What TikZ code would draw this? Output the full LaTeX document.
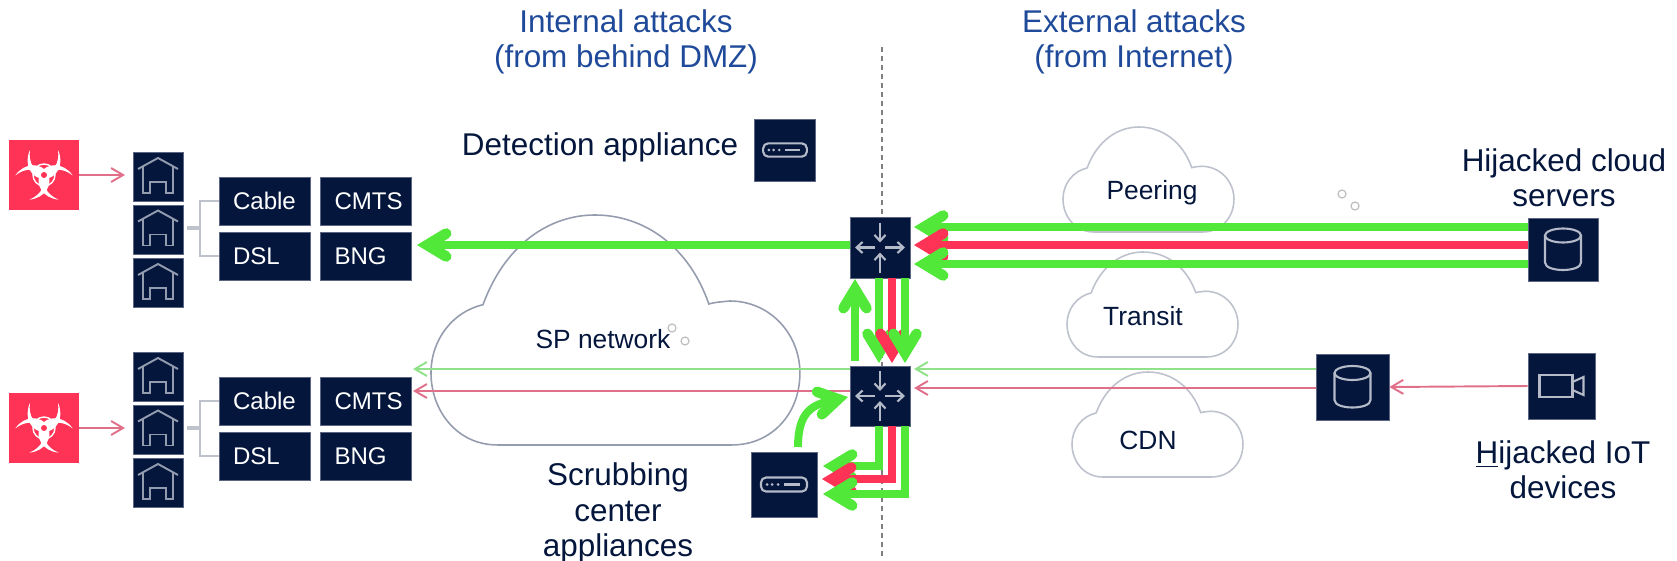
\documentclass[tikz,border=0pt]{standalone}
\usepackage{fontspec}
\setmainfont{Liberation Sans}
\usetikzlibrary{arrows.meta}
\definecolor{navy}{HTML}{04163C}
\definecolor{boxedge}{HTML}{5C6682}
\definecolor{titleblue}{HTML}{1F4A9A}
\definecolor{hotred}{HTML}{FF3355}
\definecolor{hotgreen}{HTML}{52E83A}
\definecolor{palered}{HTML}{E0708A}
\definecolor{palegreen}{HTML}{8FE288}
\definecolor{iconline}{HTML}{B4BAC8}
\definecolor{houseline}{HTML}{939BAE}
\definecolor{bracketgray}{HTML}{BEC3CB}
\newcommand{\bigfont}{\fontsize{17.9}{20}\selectfont}
\newcommand{\midfont}{\fontsize{15}{18}\selectfont}
\newcommand{\cellfont}{\fontsize{13.7}{16}\selectfont}
\tikzstyle{iconbox} = [rectangle, fill=navy, draw=boxedge, line width=.4pt, inner sep=0pt]
\tikzstyle{cell} = [iconbox, text=white, font=\cellfont, minimum height=.96cm, inner xsep=.28cm, text width=1.26cm, text height=.34cm, text depth=0cm, align=left]
\tikzstyle{biobox} = [rectangle, fill=hotred, inner sep=0pt, minimum size=1.4cm]
\tikzstyle{label} = [text=navy, font=\bigfont, align=center, inner sep=0pt]
\tikzstyle{small} = [text=navy, font=\midfont, inner sep=0pt]
\tikzstyle{title} = [text=titleblue, font=\bigfont, align=center, inner sep=0pt]
\tikzstyle{ring} = [circle, draw=black!25, line width=.7pt, minimum size=.16cm, inner sep=0pt]
\tikzstyle{thickg} = [draw=hotgreen, line width=4.5pt, -{Straight Barb[length=.38cm,width=.46cm,line width=6pt,line cap=round]}]
\tikzstyle{thickr} = [draw=hotred, line width=4.5pt, -{Straight Barb[length=.38cm,width=.46cm,line width=6pt,line cap=round]}]
\tikzstyle{thing} = [draw=palegreen, line width=1.1pt, -{Straight Barb[length=.24cm,width=.28cm]}]
\tikzstyle{thinr} = [draw=palered, line width=1.1pt, -{Straight Barb[length=.24cm,width=.28cm]}]
\tikzstyle{glyph} = [draw=iconline, line width=1.2pt]
\tikzset{
  netcloud/.pic={\draw[pic actions] (0.141,0.39) .. controls (0.2,0.13) and (0.32,0) .. (0.444,0) .. controls (0.58,0) and (0.70,0.14) .. (0.753,0.387) .. controls (0.77,0.38) .. (0.81,0.374) .. controls (0.92,0.374) and (1,0.52) .. (1,0.687) .. controls (1,0.87) and (0.92,1) .. (0.816,1) -- (0.18,1) .. controls (0.07,1) and (0,0.85) .. (0,0.687) .. controls (0,0.54) and (0.06,0.42) .. (0.141,0.39) -- cycle;},
  house/.pic={\draw[draw=houseline, line width=1.1pt] (-20,-8) -- (0,-19) -- (20,-8);
    \draw[draw=houseline, line width=1.1pt] (-15,-11) -- (-15,16) -- (-8,16) -- (-8,5) -- (8,5) -- (8,16) -- (15,16) -- (15,-11);},
  router/.pic={\draw[glyph, -{Straight Barb[length=.12cm,width=.22cm]}] (0,-25) -- (0,-5);
    \draw[glyph, -{Straight Barb[length=.12cm,width=.22cm]}] (0,25) -- (0,5);
    \draw[glyph, -{Straight Barb[length=.12cm,width=.22cm]}] (-5,0) -- (-25,0);
    \draw[glyph, -{Straight Barb[length=.12cm,width=.22cm]}] (5,0) -- (25,0);},
  appliance/.pic={\draw[glyph, rounded corners=.1cm] (-23,-7) rectangle (23,7);
    \foreach \k in {-17,-12,-6} {\fill[iconline] (\k,0) circle (1.5);}
    \draw[glyph] (0,0) -- (16,0);},
  dbase/.pic={\draw[glyph] (0,-14) ellipse (18 and 7);
    \draw[glyph] (-18,-14) -- (-18,13) .. controls (-18,23) and (18,23) .. (18,13) -- (18,-14);},
  camera/.pic={\draw[glyph] (-22,-11) rectangle (11,11);
    \draw[glyph] (11,-4) -- (22,-9) -- (22,9) -- (11,4);},
  biohazard/.pic={\foreach \k in {0,120,240} {\fill[white, rotate=\k] (-14,-25) .. controls (-21,-10) and (-12,4) .. (0,4) .. controls (12,4) and (21,-10) .. (14,-25) .. controls (16,-12) and (9,-2) .. (0,-2) .. controls (-9,-2) and (-16,-12) .. (-14,-25) -- cycle;}
    \draw[white, line width=.8pt] (0,0) circle (11);
    \fill[hotred] (0,0) circle (3);}
}
\begin{document}
\begin{tikzpicture}[x=.02cm, y=-.02cm]
  \useasboundingbox (0,0) rectangle (1677,561);

  % clouds and the divider
  \foreach \cx/\cy/\cw/\ch/\cshade in {431/215/7.38/4.6/65,1063/127/3.42/2.1/40,1067/252/3.42/2.1/40,1072/372/3.42/2.1/40}
  {\begin{scope}[shift={(\cx,\cy)}, x=\cw cm, y=-\ch cm]
    \pic[draw=boxedge!\cshade, line width=.9pt] {netcloud};
  \end{scope}}
  \coordinate (divT) at (882,47);
  \coordinate (divB) at (882,558);
  \draw[black!50, line width=1.4pt, dash pattern=on .1cm off .08cm] (divT) -- (divB);

  % texts
  \node[title] (internal) at (626,42) {Internal attacks\\(from behind DMZ)};
  \node[title] (external) at (1134,42) {External attacks\\(from Internet)};
  \node[label] (detect) at (600,147) {Detection appliance};
  \node[label] (scrub) at (618,513) {Scrubbing\\center\\appliances};
  \node[label] (cloudsrv) at (1564,178) {Hijacked cloud\\servers};
  \node[label] (iotdev) at (1563,470) {\underline{H}ijacked IoT\\devices};
  \node[small] (sp) at (603,339) {SP network};
  \node[small] (peer) at (1152,193) {Peering};
  \node[small] (transit) at (1143,316) {Transit};
  \node[small] (cdn) at (1148,440) {CDN};
  \node[ring] (o1) at (672,328) {};
  \node[ring] (o2) at (685,341) {};
  \node[ring] (o3) at (1342,194) {};
  \node[ring] (o4) at (1355,206) {};

  % subscriber stacks
  \foreach \s/\d in {a/0,b/200}
  {
    \foreach \i/\hy in {1/177,2/229.5,3/283}
    {\node[iconbox, minimum width=1cm, minimum height=.98cm] (h\s\i) at (158,\hy+\d) {};
    \pic at (h\s\i) {house};}
    \node[cell] (cable\s) at (264.5,201+\d) {Cable};
    \node[cell] (dsl\s) at (264.5,256+\d) {DSL};
    \node[cell] (cmts\s) at (366,201+\d) {CMTS};
    \node[cell] (bng\s) at (366,256+\d) {BNG};
    \coordinate (join\s) at (200,228+\d);
    \draw[bracketgray, line width=1.1pt] (cable\s.west) -| (join\s) |- (dsl\s.west);
    \draw[bracketgray, line width=1.8pt, shorten <=.08cm] (h\s2.east |- join\s) -- (join\s);
  }

  % sources
  \node[biobox] (bioa) at (44,175) {};
  \pic at (bioa) {biohazard};
  \node[biobox] (biob) at (44,428) {};
  \pic at (biob) {biohazard};
  \coordinate (tipa) at (125,175);
  \coordinate (tipb) at (125,428);
  \draw[thinr] (bioa) -- (tipa);
  \draw[thinr] (biob) -- (tipb);

  % routers and servers
  \node[iconbox, minimum width=1.2cm, minimum height=1.22cm] (r1) at (880,247.5) {};
  \pic at (r1) {router};
  \node[iconbox, minimum width=1.2cm, minimum height=1.2cm] (r2) at (880,396) {};
  \pic at (r2) {router};
  \node[iconbox, minimum width=1.22cm, minimum height=1.24cm] (detbox) at (785,150) {};
  \pic[scale=.95] at (detbox) {appliance};
  \node[iconbox, minimum width=1.32cm, minimum height=1.3cm] (scrbox) at (784,484.5) {};
  \pic at (scrbox) {appliance};
  \node[iconbox, minimum width=1.4cm, minimum height=1.26cm] (db1) at (1563,249.5) {};
  \pic at (db1) {dbase};
  \node[iconbox, minimum width=1.46cm, minimum height=1.32cm] (db2) at (1352.5,387) {};
  \pic at (db2) {dbase};
  \node[iconbox, minimum width=1.34cm, minimum height=1.32cm] (cam) at (1561.5,386) {};
  \pic at (cam) {camera};

  % arrow ends
  \coordinate (inA) at (914,227);
  \coordinate (inB) at (914,245);
  \coordinate (inC) at (914,264);
  \coordinate (toBng) at (417,245);
  \coordinate (dnA) at (879,363);
  \coordinate (dnB) at (892,363);
  \coordinate (dnC) at (905,363);
  \coordinate (upS) at (855,361);
  \coordinate (upT) at (855,279);
  \coordinate (scA) at (823,466);
  \coordinate (scB) at (822,479);
  \coordinate (scC) at (823,494);
  \coordinate (curveS) at (798,447);
  \coordinate (curveT) at (848,397);
  \coordinate (thinGr) at (914,369);
  \coordinate (thinRr) at (914,388);
  \coordinate (thinGl) at (413,369);
  \coordinate (thinRl) at (413,391);

  % thin paths
  \draw[thing] (db2.west |- thinGr) -- (thinGr);
  \draw[thinr] (db2.west |- thinRr) -- (thinRr);
  \draw[thing] (r2.west |- thinGl) -- (thinGl);
  \draw[thinr] (r2.west |- thinRl) -- (thinRl);
  \draw[thinr] (cam.west) -- (db2.east);

  % thick paths
  \draw[thickg] (db1.west |- inA) -- (inA);
  \draw[thickr] (db1.west |- inB) -- (inB);
  \draw[thickg] (db1.west |- inC) -- (inC);
  \draw[thickg] (r1.west |- toBng) -- (toBng);
  \draw[thickg] (dnA |- r1.south) -- (dnA);
  \draw[thickr] (dnB |- r1.south) -- (dnB);
  \draw[thickg] (dnC |- r1.south) -- (dnC);
  \draw[thickg] (upS) -- (upT);
  \draw[thickg] (dnA |- r2.south) |- (scA);
  \draw[thickr] (dnB |- r2.south) |- (scB);
  \draw[thickg] (dnC |- r2.south) |- (scC);
  \draw[thickg] (curveS) to[out=90,in=192,looseness=1.3] (curveT);
\end{tikzpicture}
\end{document}
